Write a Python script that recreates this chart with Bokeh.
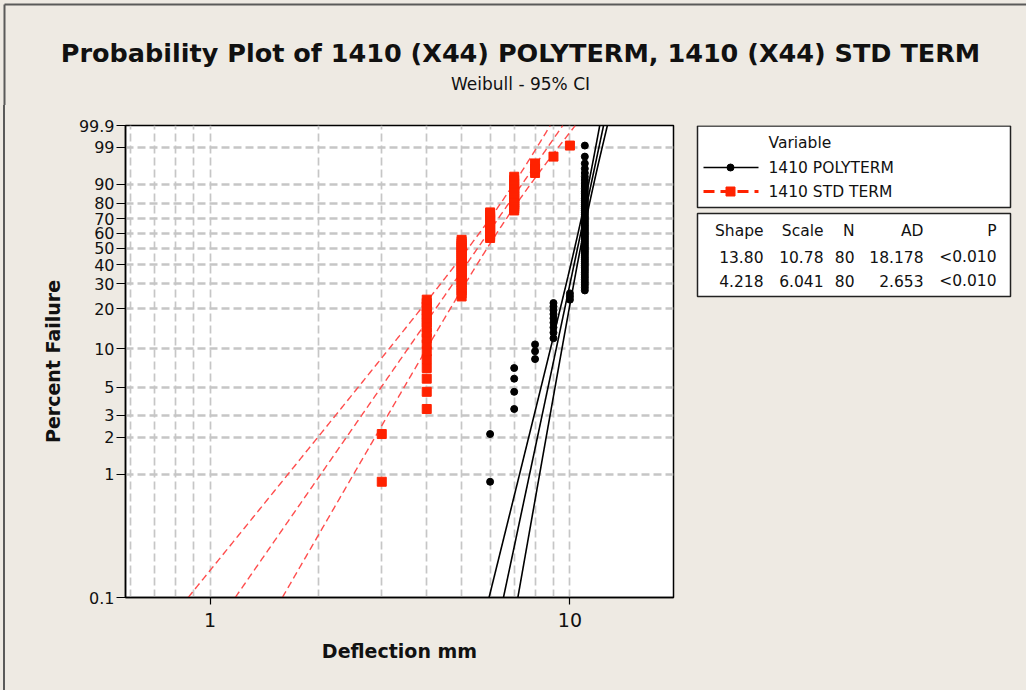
import numpy as np
from bokeh.plotting import figure
from bokeh.layouts import column, row
from bokeh.models import Range1d, FixedTicker, CustomJSTickFormatter
from bokeh.core.properties import value
from bokeh.embed import file_html
from bokeh.resources import INLINE

# ---------------- data ----------------
poly_values = [6, 7, 8, 9, 10, 11]          # deflection mm, 1410 POLYTERM
poly_counts = [2, 4, 3, 9, 3, 59]
std_values = [3, 4, 5, 6, 7, 8, 9, 10]      # deflection mm, 1410 STD TERM
std_counts = [2, 17, 26, 15, 15, 3, 1, 1]

variables = ["1410 POLYTERM", "1410 STD TERM"]
shape = [13.80, 4.218]
scale = [10.78, 6.041]
n_obs = [80, 80]
shape_txt = ["13.80", "4.218"]
scale_txt = ["10.78", "6.041"]
ad_txt = ["18.178", "2.653"]
p_txt = ["<0.010", "<0.010"]
table_head = ["Shape", "Scale", "N", "AD", "P"]

y_ticks_pct = [0.1, 1, 2, 3, 5, 10, 20, 30, 40, 50, 60, 70, 80, 90, 99, 99.9]
x_ticks = [1, 10]
x_grid = [0.6, 0.7, 0.8, 0.9, 1, 2, 3, 4, 5, 6, 7, 8, 9, 10]
x_lim = [0.582, 19.4]

TITLE = "Probability Plot of 1410 (X44) POLYTERM, 1410 (X44) STD TERM"
SUBTITLE = "Weibull - 95% CI"

# ---------------- styles ----------------
BG = "#eeeae3"
EDGE = "#5a5a5a"
RED = "#ff2200"
RED_LINE = "#ff4d4d"
FONT = "DejaVu Sans"


def wb(pct):
    p = np.asarray(pct, dtype=float) / 100.0
    return np.log(-np.log(1.0 - p))


def plot_positions(values, counts):
    x = np.repeat(values, counts).astype(float)
    n = len(x)
    i = np.arange(1, n + 1)
    pct = 100.0 * (i - 0.3) / (n + 0.4)
    return x, wb(pct)


def fit_lines(sh, sc, n, w):
    b = 1.0 / sh
    y = np.log(sc) + b * w
    se = b / np.sqrt(n) * np.sqrt(1.1087 + 0.6079 * w ** 2 - 2 * 0.2570 * w)
    return np.exp(y), np.exp(y - 1.96 * se), np.exp(y + 1.96 * se)


y_lo, y_hi = float(wb(0.1)), float(wb(99.9))

# ---------------- main probability plot ----------------
p = figure(frame_width=548, frame_height=472, x_axis_type="log",
           x_range=Range1d(*x_lim), y_range=Range1d(y_lo, y_hi),
           output_backend="svg", toolbar_location=None,
           min_border_left=125, min_border_right=17, min_border_top=20, min_border_bottom=93,
           background_fill_color="white", border_fill_color=BG, border_fill_alpha=0,
           outline_line_color="black", outline_line_width=1.5)

p.yaxis.ticker = FixedTicker(ticks=[float(v) for v in wb(y_ticks_pct)])
p.yaxis.formatter = CustomJSTickFormatter(
    code="const q = 100*(1-Math.exp(-Math.exp(tick))); return String(Math.round(q*10)/10);")
p.xaxis.ticker = FixedTicker(ticks=x_ticks)
p.xaxis.formatter = CustomJSTickFormatter(code="return String(tick);")
p.xgrid.ticker = FixedTicker(ticks=x_grid)

for ax in (p.xaxis, p.yaxis):
    ax.axis_line_color = "black"
    ax.axis_line_width = 1.5
    ax.major_tick_line_color = "black"
    ax.major_tick_line_width = 1.2
    ax.major_tick_in = 0
    ax.minor_tick_line_color = None
    ax.major_label_text_font = FONT
    ax.major_label_text_color = "#111111"
    ax.axis_label_text_font = FONT
    ax.axis_label_text_font_style = "bold"
    ax.axis_label_text_font_size = "19px"
    ax.axis_label_text_color = "#111111"

p.yaxis.major_tick_out = 9
p.yaxis.major_label_standoff = 2
p.yaxis.major_label_text_font_size = "16px"
p.yaxis.axis_label = "Percent Failure"
p.yaxis.axis_label_standoff = 12
p.xaxis.major_tick_out = 7
p.xaxis.major_label_standoff = 8
p.xaxis.major_label_text_font_size = "19px"
p.xaxis.axis_label = "Deflection mm"
p.xaxis.axis_label_standoff = 10

p.xgrid.grid_line_color = "#c6c6c6"
p.xgrid.grid_line_width = 1.7
p.xgrid.grid_line_dash = "8 4"
p.ygrid.grid_line_color = "#c6c6c6"
p.ygrid.grid_line_width = 2.4
p.ygrid.grid_line_dash = "8 4"

w = np.linspace(y_lo, y_hi, 400)

# fitted lines and 95% confidence bounds
fx, flo, fhi = fit_lines(shape[0], scale[0], n_obs[0], w)
for xs in (flo, fx, fhi):
    p.line(xs, w, line_color="black", line_width=1.6)
fx, flo, fhi = fit_lines(shape[1], scale[1], n_obs[1], w)
for xs in (flo, fx, fhi):
    p.line(xs, w, line_color=RED_LINE, line_width=1.4, line_dash="7 4")

# observations (median ranks)
px, py = plot_positions(poly_values, poly_counts)
p.scatter(px, py, marker="circle", size=7, fill_color="black", line_color="black")
sx, sy = plot_positions(std_values, std_counts)
p.scatter(sx, sy, marker="square", size=9, fill_color=RED, line_color=RED)

# ---------------- title strip ----------------
t = figure(width=1026, height=105, x_range=Range1d(0, 1026), y_range=Range1d(105, 0),
           output_backend="svg", toolbar_location=None, min_border=0,
           x_axis_location=None, y_axis_location=None,
           background_fill_color=BG, border_fill_color=BG, outline_line_color=None)
t.grid.visible = False
t.line([4, 1026], [4, 4], line_color=EDGE, line_width=2)
t.line([4, 4], [4, 105], line_color=EDGE, line_width=2)
t.text(x=[520], y=[52], text=[TITLE], text_font=value(FONT), text_font_size="25.5px",
       text_font_style="bold", text_align="center", text_baseline="middle", text_color="#111111")
t.text(x=[520], y=[83], text=[SUBTITLE], text_font=value(FONT), text_font_size="17px",
       text_align="center", text_baseline="middle", text_color="#111111")

# ---------------- legend / statistics panel (frame aligned with the plot frame) ----------------
lg = figure(width=336, frame_height=472, x_range=Range1d(690, 1026), y_range=Range1d(597, 125),
            output_backend="svg", toolbar_location=None,
            min_border_left=0, min_border_right=0, min_border_top=20, min_border_bottom=93,
            x_axis_location=None, y_axis_location=None,
            background_fill_color=BG, border_fill_color=BG, outline_line_color=None)
lg.grid.visible = False

lg.quad(left=[697, 697], right=[1010, 1010], top=[125.5, 213], bottom=[207, 296],
        fill_color="white", line_color="#222222", line_width=1.5)

TXT = dict(text_font=value(FONT), text_font_size="15.5px", text_color="#111111",
           text_baseline="middle")
lg.text(x=[768], y=[142], text=["Variable"], text_align="left", **TXT)
lg.text(x=[768, 768], y=[167, 191], text=variables, text_align="left", **TXT)

lg.line([703, 758], [167, 167], line_color="black", line_width=1.3)
lg.scatter([730], [167], marker="circle", size=7, fill_color="black", line_color="black")
lg.line([703, 758], [191, 191], line_color=RED, line_width=3, line_dash="11 6")
lg.scatter([730], [191], marker="square", size=9, fill_color=RED, line_color=RED)

col_right = [763, 823, 854, 923, 996]
lg.text(x=col_right, y=[230] * 5, text=table_head, text_align="right", **TXT)
for r, yy in enumerate([256, 280]):
    cells = [shape_txt[r], scale_txt[r], str(n_obs[r]), ad_txt[r], p_txt[r]]
    lg.text(x=col_right, y=[yy] * 5, text=cells, text_align="right", **TXT)

# window edge on the left, painted behind the (transparent) plot border
edge_bg = (f"linear-gradient(to right, {BG} 3px, {EDGE} 3px, {EDGE} 5px, {BG} 5px)")
layout = column(t, row(p, lg, styles={"background": edge_bg}),
                styles={"background-color": BG})
open("out.html", "w").write(file_html(layout, INLINE))
